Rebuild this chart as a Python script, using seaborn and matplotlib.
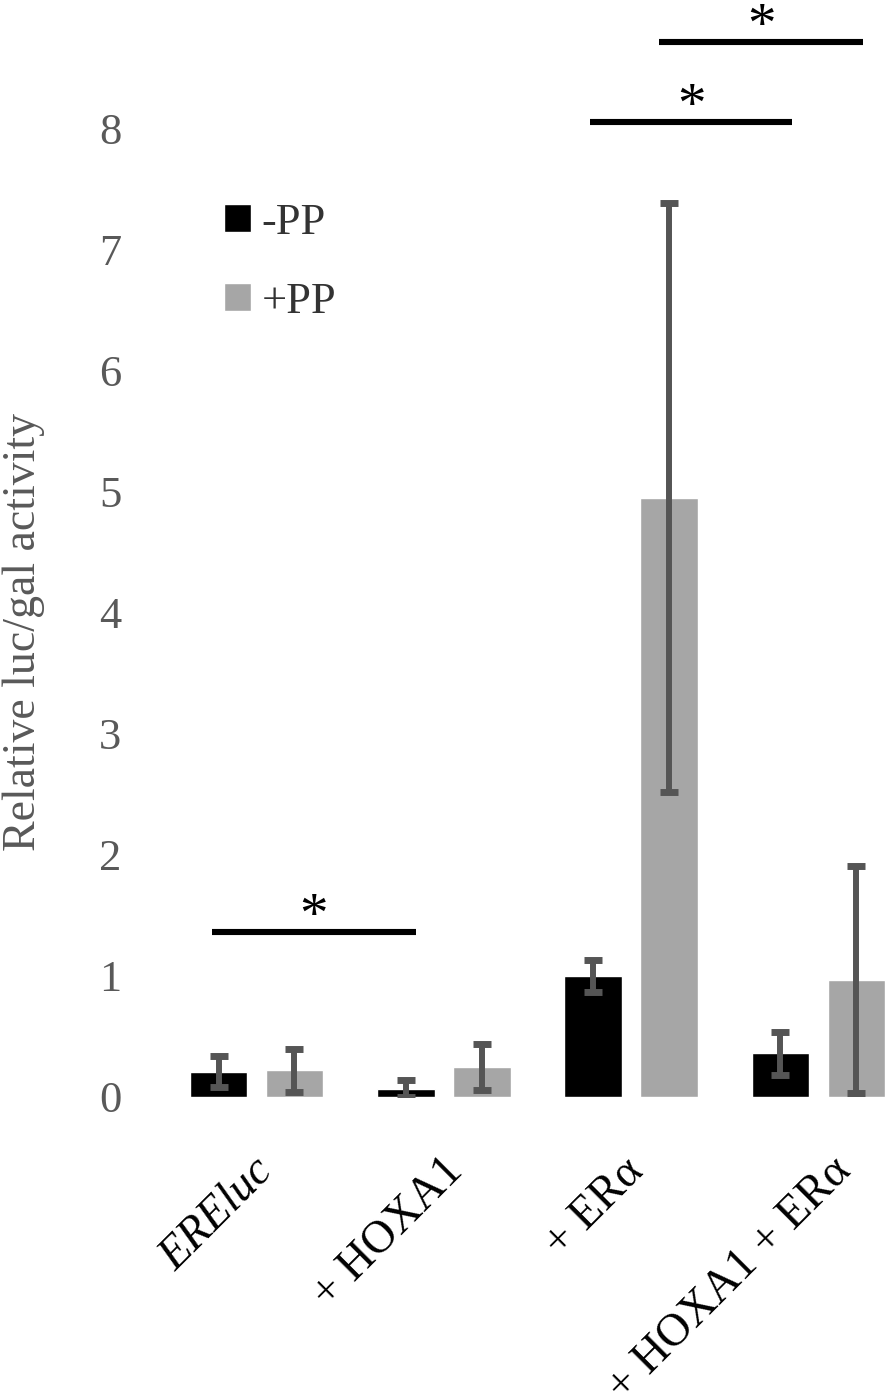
import numpy as np
import pandas as pd
import matplotlib
matplotlib.use("Agg")
import matplotlib.pyplot as plt
import matplotlib.transforms as mtransforms
import seaborn as sns

# values
constructs = ["EREluc", "+ HOXA1", "+ ERα", "+ HOXA1 + ERα"]
treatments = ["-PP", "+PP"]
minus_pp = [0.21, 0.07, 1.00, 0.36]
minus_pp_err = [0.13, 0.07, 0.13, 0.18]
plus_pp = [0.22, 0.25, 4.95, 0.97]
plus_pp_err = [0.18, 0.19, 2.43, 0.94]

# significance brackets: (x start, x end, height)
sig_x0 = [-0.24, 1.78, 2.15]
sig_x1 = [0.85, 2.86, 3.24]
sig_y = [1.36, 8.05, 8.71]

df = pd.DataFrame({
    "construct": constructs * 2,
    "treatment": [treatments[0]] * 4 + [treatments[1]] * 4,
    "value": minus_pp + plus_pp,
})

sns.set_style("white")
plt.rcParams["font.family"] = ["Liberation Serif", "DejaVu Serif"]

fig = plt.figure(figsize=(8.86, 14.0), dpi=100)
ax = fig.add_axes([162.85 / 886, (1400 - 1097) / 1400, 1 - 162.85 / 886, 1097 / 1400])

sns.barplot(
    data=df, x="construct", y="value", hue="treatment",
    palette=["#000000", "#a6a6a6"], width=0.81, gap=0.24,
    errorbar=None, ax=ax,
)

err_color = "#555555"
for cont, errs in zip(ax.containers, [minus_pp_err, plus_pp_err]):
    xs = [b.get_x() + b.get_width() / 2 for b in cont]
    ys = [b.get_height() for b in cont]
    ax.errorbar(xs, ys, yerr=errs, fmt="none", ecolor=err_color,
                elinewidth=4.3, capsize=6.8, capthick=5, zorder=3)

for x0, x1, y in zip(sig_x0, sig_x1, sig_y):
    ax.plot([x0, x1], [y, y], color="black", lw=4.4, solid_capstyle="butt",
            clip_on=False)
    ax.text((x0 + x1) / 2, y, "*", ha="center", va="baseline",
            fontsize=41, color="black")

ax.set_xlim(-0.5, (886 - 256.5) / 187.3)
ax.set_ylim(0, 1097 / 121.1)
ax.set_yticks(range(0, 9))
ax.tick_params(axis="y", length=0, pad=30, labelsize=32, labelcolor="#595959")
ax.tick_params(axis="x", length=0, pad=38, labelsize=33, labelcolor="black")
sns.despine(ax=ax, left=True, bottom=True, top=True, right=True)

ax.set_xlabel("")
ax.set_ylabel("Relative luc/gal activity", fontsize=33, color="#595959")
ax.yaxis.set_label_coords(-0.163, 0.424)

label_shift_px = [25, 28, 21, 41]
for i, lab in enumerate(ax.get_xticklabels()):
    lab.set_rotation(45)
    lab.set_ha("right")
    shift = mtransforms.ScaledTranslation(label_shift_px[i] / 100, 0, fig.dpi_scale_trans)
    lab.set_transform(lab.get_transform() + shift)
    if i == 0:
        lab.set_style("italic")

handles, labels = ax.get_legend_handles_labels()
ax.legend(handles, labels, loc="upper left",
          bbox_to_anchor=(184 / 886, 1 - 163 / 1400), bbox_transform=fig.transFigure,
          frameon=False, fontsize=32, handlelength=0.6, handleheight=0.6,
          handletextpad=0.25, labelspacing=0.87, labelcolor="#333333")

fig.savefig("out.png", dpi=100)
